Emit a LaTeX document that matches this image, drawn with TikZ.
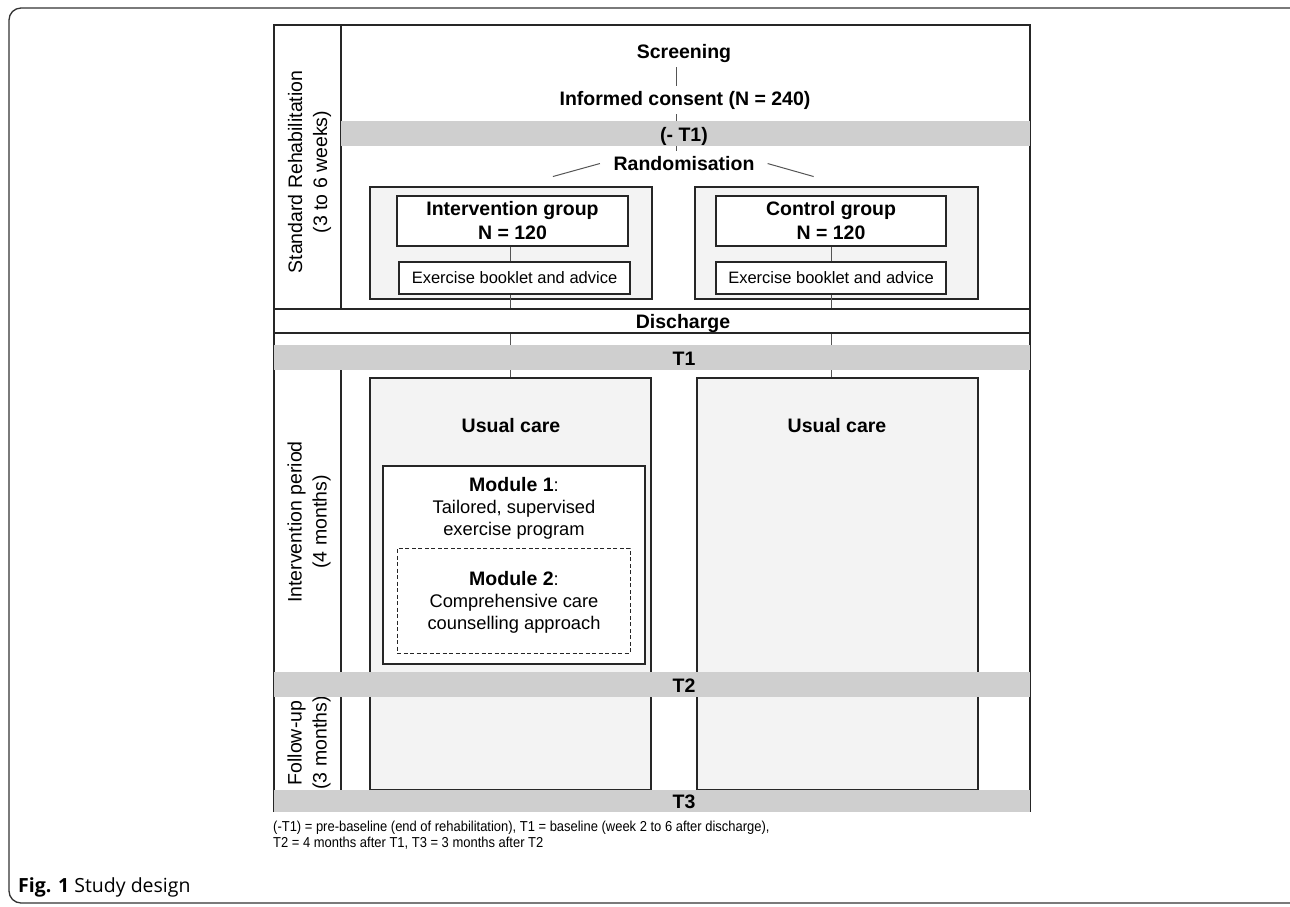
\documentclass[tikz,border=0pt]{standalone}
\usepackage{fontspec}
\setmainfont{Liberation Sans}
\newfontfamily\capfont[FakeStretch=0.9]{Liberation Sans}
\newfontfamily\figfont{Open Sans}
\definecolor{linec}{HTML}{262626}
\definecolor{conncol}{HTML}{555555}
\definecolor{bandc}{HTML}{CFCFCF}
\definecolor{boxc}{HTML}{F3F3F3}
\definecolor{framec}{HTML}{333333}
\newcommand\myBig{\fontsize{19.5}{24}\selectfont\bfseries}
\newcommand\myLab{\fontsize{19.5}{25}\selectfont}
\newcommand\myMod{\fontsize{18.3}{22}\selectfont}
\newcommand\myEx{\fontsize{16.5}{20}\selectfont}
\newcommand\myCap{\capfont\fontsize{14.4}{16}\selectfont}
\begin{document}
\begin{tikzpicture}[x=1pt,y=-1pt,
  txt/.style={inner xsep=2pt, inner ysep=5pt, font=\myBig, anchor=base},
  conn/.style={draw=conncol, line width=1pt},
  border/.style={draw=linec, line width=1.5pt},
  box/.style={draw=linec, line width=1.5pt, inner sep=0pt},
  band/.style={fill=bandc, inner sep=0pt},
  lab/.style={rotate=90, align=center, font=\myLab, inner sep=0pt}]
\useasboundingbox (0,0) rectangle (1290,906);
% outer frame
\draw[draw=framec, line width=1.3pt, rounded corners=12pt] (9,8) rectangle (1302,903);
% diagram border and column divider
\draw[border] (274,812) -- (274,25) -- (1030,25) -- (1030,812);
\draw[border] (341,25) -- (341,309);
\draw[border] (341,370) -- (341,790);
% left labels
\node[lab] (lab1) at (309.5,172) {Standard Rehabilitation\\(3 to 6 weeks)};
\node[lab] (lab2) at (309,522) {Intervention period\\(4 months)};
\node[lab] (lab3) at (309,743) {Follow-up\\(3 months)};
% top flow
\node[txt] (screen) at (684,58) {Screening};
\node[txt] (consent) at (685,105) {Informed consent (N = 240)};
\node[txt] (random) at (684,170.5) {Randomisation};
\coordinate (spine) at (676,0);
\draw[conn] (screen.south -| spine) -- (consent.north -| spine);
\draw[conn] (consent.south -| spine) -- (random.north -| spine);
\draw[conn] ([xshift=-11.5pt]random.west) -- ++(-47,13);
\draw[conn] ([xshift=11pt]random.east) -- ++(46,13);
% group boxes
\node[box, fill=boxc, minimum width=282, minimum height=112] (igrp) at (511,243) {};
\node[box, fill=boxc, minimum width=283, minimum height=112] (cgrp) at (836.5,243) {};
\node[box, fill=white, minimum width=231, minimum height=50, align=center, font=\myBig] (ihead) at (512.5,221) {Intervention group\\N = 120};
\node[box, fill=white, minimum width=230, minimum height=50, align=center, font=\myBig] (chead) at (831,221) {Control group\\N = 120};
\node[box, fill=white, minimum width=231, minimum height=32, font=\myEx] (iex) at (514.5,278) {Exercise booklet and advice};
\node[box, fill=white, minimum width=230, minimum height=32, font=\myEx] (cex) at (831,278) {Exercise booklet and advice};
\coordinate (ix) at (510,0);
\coordinate (cx) at (831,0);
\draw[conn] (ihead.south -| ix) -- (iex.north -| ix);
\draw[conn] (chead.south -| cx) -- (cex.north -| cx);
% usual care
\node[box, fill=boxc, minimum width=281, minimum height=412] (iuc) at (510.5,584) {};
\node[box, fill=boxc, minimum width=281, minimum height=412] (cuc) at (837.5,584) {};
\node[txt] (iuct) at (511,432) {Usual care};
\node[txt] (cuct) at (837,432) {Usual care};
\node[box, fill=white, minimum width=262, minimum height=198] (m1) at (514,565) {};
\node[draw=linec, line width=1pt, dash pattern=on 4pt off 2.5pt, inner sep=0pt, minimum width=233, minimum height=105] (m2) at (513.5,600.5) {};
\node[align=center, font=\myMod, inner sep=0pt] (m1t) at (514,508) {{\fontsize{19.5}{22}\selectfont\bfseries Module 1}:\\Tailored, supervised\\exercise program};
\node[align=center, font=\myMod, inner sep=0pt] (m2t) at (514,602) {{\fontsize{19.5}{22}\selectfont\bfseries Module 2}:\\Comprehensive care\\counselling approach};
\draw[conn] (iex.south -| ix) -- (iuc.north -| ix);
\draw[conn] (cex.south -| cx) -- (cuc.north -| cx);
% bands
\node[box, fill=white, minimum width=756, minimum height=24] (dis) at (652,321) {};
\node[txt] (dist) at (683,328) {Discharge};
\node[band, minimum width=689, minimum height=25] (bm1) at (685.5,133.5) {};
\node[txt] (bm1t) at (684,141) {(- T1)};
\node[band, minimum width=756, minimum height=25] (t1) at (652,357.5) {};
\node[txt] (t1t) at (684,365) {T1};
\node[band, minimum width=756, minimum height=25] (t2) at (652,684.5) {};
\node[txt] (t2t) at (684,692) {T2};
\node[band, minimum width=756, minimum height=22] (t3) at (652,801) {};
\node[txt] (t3t) at (684,808) {T3};
% notes
\node[anchor=base west, inner sep=0pt, font=\myCap] (note1) at (273,831) {(-T1) = pre-baseline (end of rehabilitation), T1 = baseline (week 2 to 6 after discharge),};
\node[anchor=base west, inner sep=0pt, font=\myCap] (note2) at (273,847) {T2 = 4 months after T1, T3 = 3 months after T2};
\node[anchor=base west, inner sep=0pt, font=\figfont\fontsize{19.5}{23}\selectfont] (fig) at (18,892) {\textbf{Fig. 1} Study design};
\end{tikzpicture}
\end{document}
